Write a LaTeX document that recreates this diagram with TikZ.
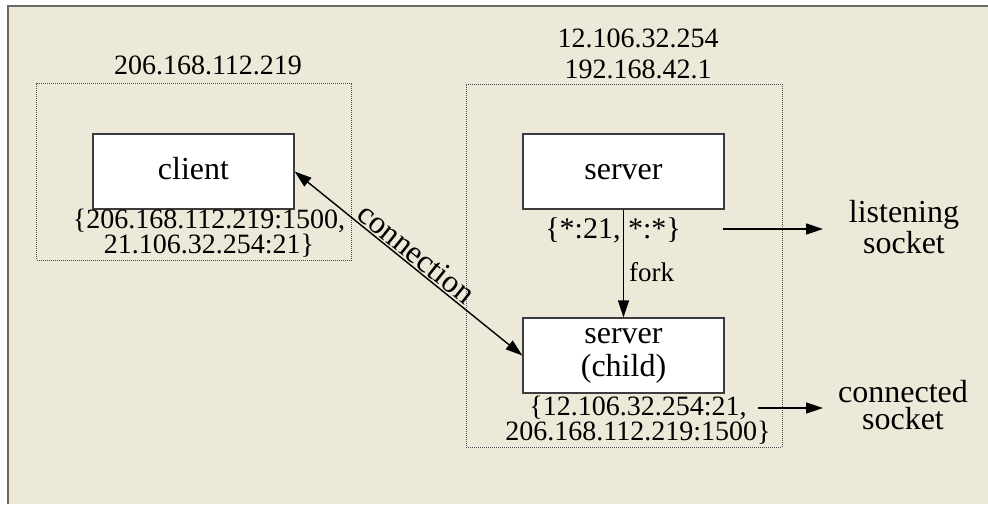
\documentclass[tikz,border=0pt]{standalone}
\usepackage{fontspec}
\setmainfont{Liberation Serif}
\usetikzlibrary{arrows.meta}
\definecolor{paper}{HTML}{ECE9D8}
\definecolor{edgegray}{HTML}{6B6B63}
\definecolor{boxline}{HTML}{3C3C3C}
\definecolor{dotline}{HTML}{4A4A4A}
\begin{document}
\begin{tikzpicture}[x=1pt,y=-1pt,
  hostbox/.style={draw=dotline, line width=0.9pt, dash pattern=on 1pt off 1pt, inner sep=0pt},
  procbox/.style={draw=boxline, fill=white, line width=1.3pt, minimum width=201pt,
    minimum height=75pt, inner sep=0pt, align=center,
    font=\fontsize{32pt}{33pt}\selectfont},
  oneline/.style={text height=22pt, text depth=6pt},
  addr/.style={inner sep=0pt, align=center, font=\fontsize{28pt}{23pt}\selectfont},
  iplabel/.style={inner sep=0pt, align=center, font=\fontsize{28pt}{31pt}\selectfont},
  socklabel/.style={inner sep=0pt, align=center, font=\fontsize{32pt}{27pt}\selectfont},
  arr/.style={-{Triangle[length=17pt,width=11pt]}, line width=1.4pt},
  dblarr/.style={{Triangle[length=17pt,width=11pt]}-{Triangle[length=17pt,width=11pt]}, line width=1.4pt},
]
\useasboundingbox (0,0) rectangle (988,504);
% window background and its frame
\fill[paper] (7,5) rectangle (988,504);
\draw[edgegray, line width=2pt] (8.3,504) -- (8.3,5.8) -- (988,5.8);

% client host
\node[hostbox, minimum width=315pt, minimum height=177pt] (chost) at (194.2,171.6) {};
\node[iplabel] (cip) at (208,65) {206.168.112.219};
\node[procbox, oneline] (client) at (193.5,171.5) {client};
\node[addr] (caddr) at (209,233.5) {\{206.168.112.219:1500,\\21.106.32.254:21\}};

% server host
\node[hostbox, minimum width=316pt, minimum height=363pt] (shost) at (624,265.5) {};
\node[iplabel] (sip) at (638,54) {12.106.32.254\\192.168.42.1};
\node[procbox, oneline] (server) at (623.5,171.5) {server};
\node[inner sep=0pt, font=\fontsize{30pt}{30pt}\selectfont] (saddr) at (613,230) {\{*:21, *:*\}};
\node[procbox] (child) at (623.5,355.5) {server\\(child)};
\node[addr] (kaddr) at (638,420.5) {\{12.106.32.254:21,\\206.168.112.219:1500\}};

% socket captions
\node[socklabel] (lsock) at (904,227) {listening\\socket};
\node[socklabel] (csock) at (903,405) {connected\\socket};
\coordinate (lfrom) at (723,229);
\coordinate (lto) at (823,229);
\coordinate (cfrom) at (758,408);
\coordinate (cto) at (823,408);

% connectors
\draw[dblarr] (client.east) -- (child.west)
  node[midway, sloped, above, inner sep=1.5pt, font=\fontsize{32pt}{32pt}\selectfont] {connection};
\draw[arr] (server.south) -- (child.north)
  node[pos=0.58, right=5pt, inner sep=0pt, font=\fontsize{27pt}{27pt}\selectfont] {fork};
\draw[arr] (lfrom) -- (lto);
\draw[arr] (cfrom) -- (cto);
\end{tikzpicture}
\end{document}
